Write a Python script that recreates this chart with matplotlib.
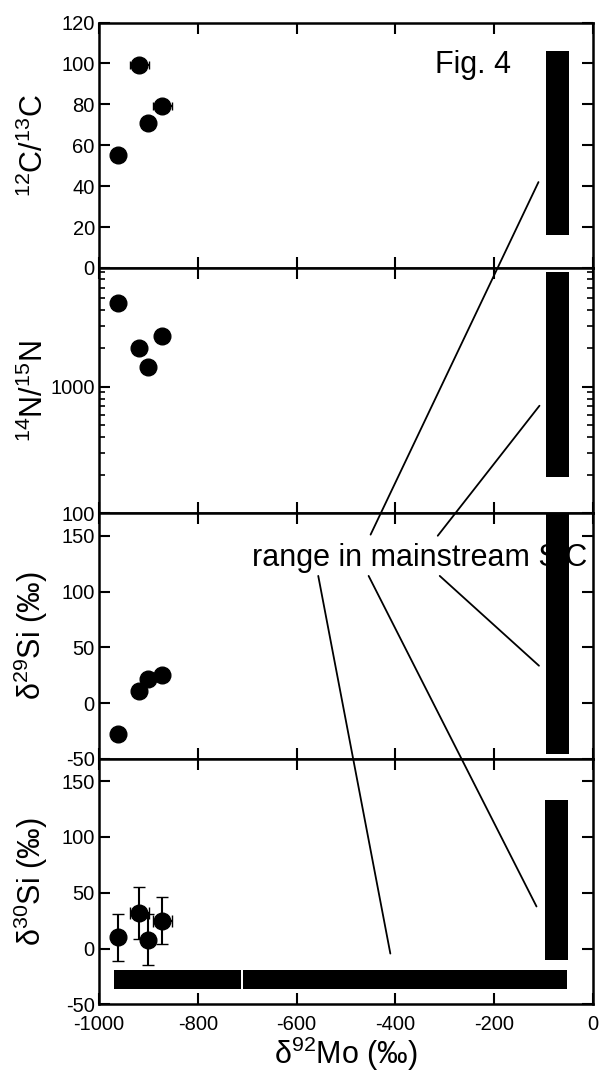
import matplotlib
matplotlib.use('Agg')
import matplotlib.pyplot as plt
from matplotlib.patches import ConnectionPatch

plt.rcParams['font.family'] = ['Liberation Sans', 'DejaVu Sans']
plt.rcParams['mathtext.default'] = 'regular'
plt.rcParams['axes.unicode_minus'] = False

# grain data
mo = [-962, -918, -900, -872]
mo_err = [0, 19, 0, 19]
c_ratio = [55, 99, 71, 79]
c_err = [0, 3, 0, 2]
n_ratio = [4550, 2000, 1425, 2500]
si29 = [-28, 11, 22, 25]
si30 = [10, 32, 8, 25]
si30_err = [21, 23, 23, 21]

# mainstream SiC ranges (low, high)
ms_mo = [-94, -48]
ms_c = [16, 106]
ms_n = [195, 8050]
ms_si29 = [-46, 200]
ms_si30 = [-10, 133]
ms_mo_wide = [[-970, -712], [-708, -52]]
ms_mo_si30 = [-36.5, -19]

fig, axs = plt.subplots(4, 1, figsize=(6, 10.73), dpi=100, sharex=True)
fig.subplots_adjust(left=0.165, right=0.988, top=0.979, bottom=0.064, hspace=0)
ax1, ax2, ax3, ax4 = axs

mw = ms_mo[1] - ms_mo[0]
mc = (ms_mo[0] + ms_mo[1]) / 2

def style(ax):
    ax.tick_params(direction='in', length=8, width=1.5, labelsize=14.5, pad=3,
                   top=True, right=True)
    ax.tick_params(which='minor', direction='in', length=4, width=1.2, right=True)
    for s in ax.spines.values():
        s.set_linewidth(1.8)

# panel 1
ax1.errorbar(mo, c_ratio, xerr=mo_err, yerr=c_err, fmt='o', color='black', ms=12,
             capsize=3, elinewidth=1.5)
ax1.bar(mc, ms_c[1] - ms_c[0], bottom=ms_c[0], width=mw, color='black', zorder=3)
ax1.set_ylim(0, 120)
ax1.set_yticks([0, 20, 40, 60, 80, 100, 120])
ax1.set_ylabel('$^{12}$C/$^{13}$C', fontsize=22)
ax1.text(-165, 99, 'Fig. 4', fontsize=22, ha='right', va='center')

# panel 2
ax2.plot(mo, n_ratio, 'o', color='black', ms=12)
ax2.bar(mc, ms_n[1] - ms_n[0], bottom=ms_n[0], width=mw, color='black', zorder=3)
ax2.set_yscale('log')
ax2.set_ylim(100, 8600)
ax2.set_yticks([100, 1000])
ax2.set_yticklabels(['100', '1000'])
ax2.set_ylabel('$^{14}$N/$^{15}$N', fontsize=22)

# panel 3
ax3.plot(mo, si29, 'o', color='black', ms=12)
ax3.bar(mc, ms_si29[1] - ms_si29[0], bottom=ms_si29[0], width=mw, color='black', zorder=3)
ax3.set_ylim(-50, 170)
ax3.set_yticks([-50, 0, 50, 100, 150])
ax3.set_ylabel('δ$^{29}$Si (‰)', fontsize=22)
ax3.text(-691, 130, 'range in mainstream SiC', fontsize=22, ha='left', va='center', zorder=2)

# panel 4
ax4.errorbar(mo, si30, xerr=mo_err, yerr=si30_err, fmt='o', color='black', ms=12,
             capsize=4, elinewidth=1.5)
ax4.bar(mc - 2, ms_si30[1] - ms_si30[0], bottom=ms_si30[0], width=mw, color='black', zorder=3)
for lo, hi in ms_mo_wide:
    ax4.barh((ms_mo_si30[0] + ms_mo_si30[1]) / 2, hi - lo, left=lo,
             height=ms_mo_si30[1] - ms_mo_si30[0], color='black', zorder=3)
ax4.set_ylim(-50, 170)
ax4.set_yticks([-50, 0, 50, 100, 150])
ax4.set_ylabel('δ$^{30}$Si (‰)', fontsize=22)
ax4.set_xlim(-1000, 0)
ax4.set_xticks([-1000, -800, -600, -400, -200, 0])
ax4.set_xlabel('δ$^{92}$Mo (‰)', fontsize=22, labelpad=0)

for ax in axs:
    style(ax)
    ax.yaxis.set_label_coords(-0.10, 0.5)
ax4.tick_params(axis='x', pad=8)

# leader lines from the label to each bar
leaders = [
    ((-450, 151), ax1, (-110, 42)),
    ((-314, 150), ax2, (-108, 706)),
    ((-310, 114), ax3, (-109, 33.5)),
    ((-556, 114), ax4, (-410, -4.5)),
    ((-454, 114), ax4, (-114, 37.7)),
]
for a, axb, b in leaders:
    con = ConnectionPatch(xyA=a, coordsA=ax3.transData, xyB=b, coordsB=axb.transData,
                          color='black', lw=1.3)
    fig.add_artist(con)

fig.savefig('out.png', dpi=100)
